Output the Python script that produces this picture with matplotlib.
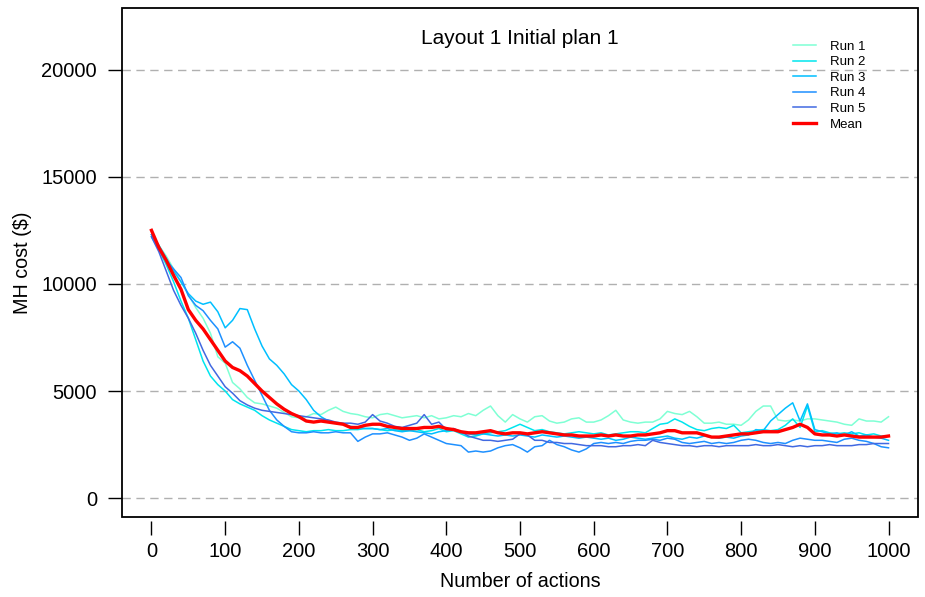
import matplotlib
matplotlib.use("Agg")
import matplotlib.pyplot as plt
from matplotlib.patches import Rectangle

plt.rcParams['font.family'] = ['Liberation Sans', 'DejaVu Sans']

# actions sampled every 10 steps
actions = list(range(0, 1001, 10))

run1 = [12300, 11800, 11300, 10700, 10100, 9500, 8900, 8400, 7700, 6600,
        6300, 5400, 5100, 4700, 4450, 4400, 4300, 4200, 4000, 3800,
        3750, 3800, 3950, 3900, 4100, 4250, 4050, 3950, 3900, 3800,
        3750, 3900, 3950, 3850, 3750, 3800, 3850, 3750, 3850, 3700,
        3750, 3850, 3800, 3950, 3850, 4100, 4300, 3850, 3550, 3900,
        3700, 3550, 3800, 3850, 3600, 3500, 3550, 3700, 3750, 3550,
        3550, 3650, 3850, 4100, 3650, 3550, 3500, 3550, 3550, 3700,
        4050, 3950, 3900, 4050, 3800, 3500, 3500, 3550, 3450, 3450,
        3400, 3650, 4050, 4300, 4300, 3650, 3600, 3650, 3600, 3700,
        3700, 3650, 3600, 3550, 3450, 3400, 3700, 3600, 3600, 3550,
        3800]

run2 = [12200, 11600, 10900, 10100, 9200, 8400, 7400, 6400, 5700, 5300,
        5000, 4600, 4400, 4250, 4100, 3850, 3650, 3500, 3350, 3200,
        3150, 3100, 3150, 3150, 3200, 3150, 3150, 3200, 3200, 3250,
        3250, 3200, 3150, 3200, 3150, 3150, 3200, 3100, 3150, 3250,
        3100, 3150, 3000, 2850, 2900, 3000, 3050, 3100, 3150, 3300,
        3450, 3300, 3150, 3200, 3100, 3050, 3000, 3050, 3100, 3050,
        3000, 3050, 2950, 3000, 3050, 3100, 3100, 3050, 3250, 3450,
        3500, 3700, 3550, 3350, 3200, 3150, 3250, 3300, 3250, 3400,
        3050, 3100, 3150, 3200, 3150, 3200, 3400, 3700, 3300, 4300,
        3100, 3150, 3050, 3000, 3050, 3000, 3050, 2950, 3000, 2900,
        2900]

run3 = [12300, 11800, 11200, 10600, 10100, 9550, 9200, 9050, 9150, 8700,
        7950, 8300, 8850, 8800, 7900, 7100, 6500, 6200, 5800, 5300,
        5000, 4600, 4100, 3800, 3600, 3500, 3450, 3350, 3300, 3250,
        3250, 3200, 3250, 3150, 3100, 3150, 3100, 3050, 3000, 3100,
        3150, 3200, 3050, 3000, 2950, 3000, 2950, 2900, 2950, 2900,
        2950, 2900, 2850, 2950, 2900, 2850, 2900, 2850, 2800, 2850,
        2800, 2750, 2800, 2700, 2750, 2850, 2800, 2750, 2800, 2850,
        2900, 2800, 2750, 2850, 2800, 2900, 2850, 2800, 2850, 2800,
        2900, 2950, 3200, 3150, 3600, 3900, 4200, 4450, 3600, 4400,
        3200, 3100, 3000, 3050, 2950, 3100, 2900, 2950, 2850, 2800,
        2700]

run4 = [12300, 11700, 11100, 10700, 10300, 9450, 9000, 8750, 8300, 7900,
        7050, 7300, 7000, 6200, 5500, 4800, 4100, 3650, 3350, 3100,
        3050, 3050, 3100, 3050, 3050, 3100, 3050, 3050, 2650, 2850,
        3000, 3000, 3050, 2950, 2850, 2700, 2800, 3000, 2850, 2700,
        2550, 2500, 2450, 2150, 2200, 2150, 2200, 2350, 2450, 2500,
        2350, 2150, 2400, 2450, 2700, 2500, 2400, 2250, 2150, 2300,
        2550, 2600, 2550, 2600, 2550, 2650, 2700, 2700, 2750, 2700,
        2800, 2750, 2600, 2550, 2600, 2650, 2550, 2600, 2550, 2600,
        2700, 2750, 2700, 2600, 2550, 2600, 2550, 2700, 2800, 2750,
        2700, 2700, 2650, 2600, 2750, 2800, 2700, 2650, 2550, 2400,
        2350]

run5 = [12200, 11500, 10600, 9700, 9000, 8400, 7700, 6900, 6200, 5700,
        5200, 4900, 4550, 4350, 4200, 4100, 4050, 4000, 3950, 3900,
        3850, 3800, 3750, 3700, 3650, 3550, 3500, 3500, 3450, 3550,
        3900, 3600, 3500, 3350, 3300, 3400, 3500, 3900, 3450, 3550,
        3200, 3250, 3100, 2900, 2800, 2700, 2700, 2650, 2700, 2750,
        3000, 2950, 2700, 2700, 2600, 2600, 2550, 2550, 2500, 2450,
        2450, 2450, 2400, 2400, 2450, 2450, 2500, 2450, 2700, 2600,
        2550, 2500, 2450, 2450, 2400, 2450, 2450, 2400, 2450, 2450,
        2450, 2450, 2500, 2450, 2450, 2500, 2450, 2400, 2450, 2400,
        2450, 2450, 2500, 2450, 2450, 2450, 2500, 2500, 2550, 2550,
        2550]

mean = [12500, 11700, 11100, 10400, 9750, 8800, 8300, 7900, 7400, 6900,
        6400, 6100, 5950, 5700, 5350, 5000, 4700, 4400, 4150, 3950,
        3800, 3600, 3550, 3600, 3550, 3500, 3450, 3300, 3300, 3400,
        3450, 3450, 3350, 3300, 3250, 3250, 3250, 3300, 3300, 3350,
        3250, 3200, 3100, 3050, 3050, 3100, 3150, 3050, 3000, 3050,
        3050, 3000, 3050, 3100, 3050, 3000, 2950, 2950, 2900, 2900,
        2900, 2950, 2900, 2950, 2900, 2900, 2950, 2950, 3000, 3050,
        3150, 3150, 3050, 3050, 3050, 2950, 2850, 2850, 2900, 2950,
        3000, 3000, 3050, 3100, 3100, 3100, 3200, 3300, 3450, 3300,
        3000, 2950, 2950, 2900, 2950, 2900, 2850, 2850, 2850, 2850,
        2900]

runs = [run1, run2, run3, run4, run5]
labels = ["Run 1", "Run 2", "Run 3", "Run 4", "Run 5"]
colors = ["#7FFFD4", "#00E5EE", "#00BFFF", "#1E90FF", "#4169E1"]

fig = plt.figure(figsize=(9.25, 5.97), dpi=100)
ax = fig.add_axes([122/925, 80/597, 796/925, 509/597])

for y in range(0, 20001, 5000):
    ax.axhline(y, color="#b0b0b0", lw=1.0, ls=(0, (6, 4)), zorder=0)

for vals, lab, col in zip(runs, labels, colors):
    ax.plot(actions, vals, color=col, lw=1.1, label=lab)
ax.plot(actions, mean, color="red", lw=2.4, label="Mean")

ax.set_xlim(-40, 1040)
ax.set_ylim(-880, 22880)
ax.set_xticks(range(0, 1001, 100))
ax.set_yticks(range(0, 20001, 5000))
ax.tick_params(axis='both', direction='out', labelsize=14.5, width=1.0, color='black')
ax.tick_params(axis='x', length=10, pad=5)
ax.tick_params(axis='y', length=10, pad=8)

# R-style box: x ticks sit a little below it
ax.spines['bottom'].set_position(('outward', 3))
for s in ax.spines.values():
    s.set_visible(False)
ax.add_patch(Rectangle((0, 0), 1, 1, transform=ax.transAxes, fill=False,
                       lw=1.3, edgecolor='black', clip_on=False, zorder=5))

ax.set_xlabel("Number of actions", fontsize=14.2, labelpad=8)
ax.set_ylabel("MH cost ($)", fontsize=14.2, labelpad=7)
ax.text(0.5, 0.941, "Layout 1 Initial plan 1", transform=ax.transAxes,
        ha='center', va='center', fontsize=15)

ax.legend(loc='upper left', bbox_to_anchor=(786/925, 1 - 34/597),
          bbox_transform=fig.transFigure, frameon=False, fontsize=9.5,
          handlelength=1.8, handletextpad=1.0, labelspacing=0.25, borderpad=0)

fig.savefig("out.png", dpi=100)
